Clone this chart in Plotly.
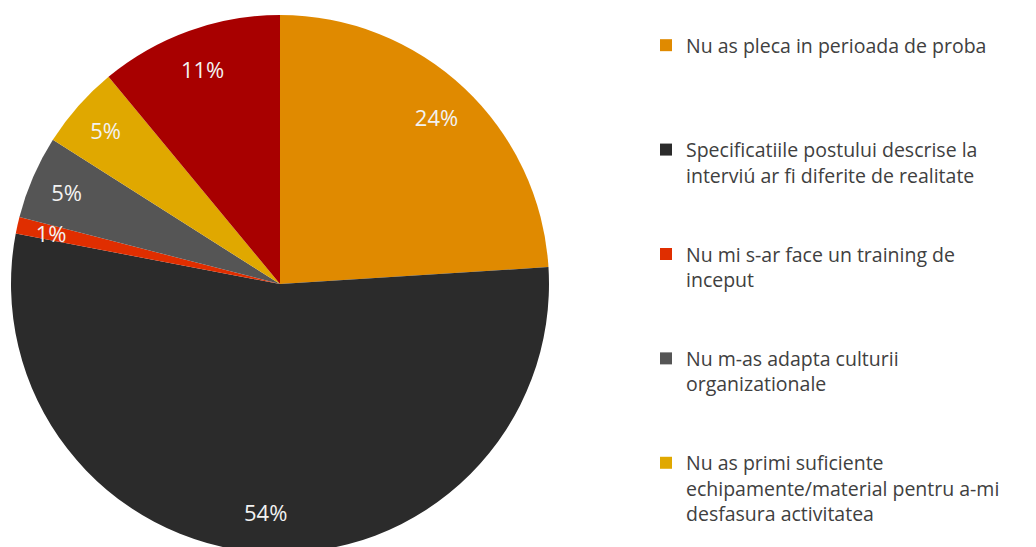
import plotly.graph_objects as go

labels = [
    "Nu as pleca in perioada de proba",
    "Specificatiile postului descrise la<br>interviú ar fi diferite de realitate",
    "Nu mi s-ar face un training de<br>inceput",
    "Nu m-as adapta culturii<br>organizationale",
    "Nu as primi suficiente<br>echipamente/material pentru a-mi<br>desfasura activitatea",
    " ",  # sixth category: its legend entry lies below the visible area
]
values = [24, 54, 1, 5, 5, 11]
colors = ["#E08A00", "#2B2B2B", "#E02E00", "#555555", "#E0A800", "#A80000"]

# pad legend entries so each occupies the same vertical space
pad_lines = [3, 2, 2, 2, 2, 0]
legend_labels = [lab + "<br> " * p for lab, p in zip(labels, pad_lines)]

W, H = 1028, 700
dom = dict(x=[3 / W, 541 / W], y=[1 - 545 / H, 1 - 7 / H])
dom_small = dict(x=[30 / W, 514 / W], y=[1 - 518 / H, 1 - 34 / H])

tiny = [v < 2 for v in values]
tmpl_main = ["" if t else "%{percent:.0%}" for t in tiny]
tmpl_tiny = ["%{percent:.0%}" if t else "" for t in tiny]

fig = go.Figure()
fig.add_trace(
    go.Pie(
        labels=legend_labels,
        values=values,
        marker=dict(colors=colors, line=dict(width=0)),
        sort=False,
        direction="clockwise",
        rotation=0,
        textinfo="none",
        domain=dom,
        hoverinfo="label+percent",
    )
)
# transparent rings carrying the percentage labels (placed near the rim)
for tmpl, d in ((tmpl_main, dom), (tmpl_tiny, dom_small)):
    fig.add_trace(
        go.Pie(
            labels=legend_labels,
            values=values,
            hole=0.7,
            marker=dict(colors=["rgba(0,0,0,0)"] * len(values), line=dict(width=0)),
            sort=False,
            direction="clockwise",
            rotation=0,
            texttemplate=tmpl,
            textposition="inside",
            insidetextorientation="horizontal",
            textfont=dict(color="#F2F2F2", size=22, family="Open Sans"),
            domain=d,
            showlegend=False,
            hoverinfo="skip",
        )
    )

fig.update_layout(
    width=W,
    height=H,
    margin=dict(l=0, r=0, t=0, b=0),
    paper_bgcolor="white",
    plot_bgcolor="white",
    uniformtext=dict(minsize=22, mode="show"),
    legend=dict(
        x=638 / W,
        y=1 - 18 / H,
        xanchor="left",
        yanchor="top",
        valign="top",
        font=dict(family="Open Sans", size=19.5, color="#404040"),
        itemsizing="constant",
        tracegroupgap=0,
    ),
)

fig.write_html("out.html")
